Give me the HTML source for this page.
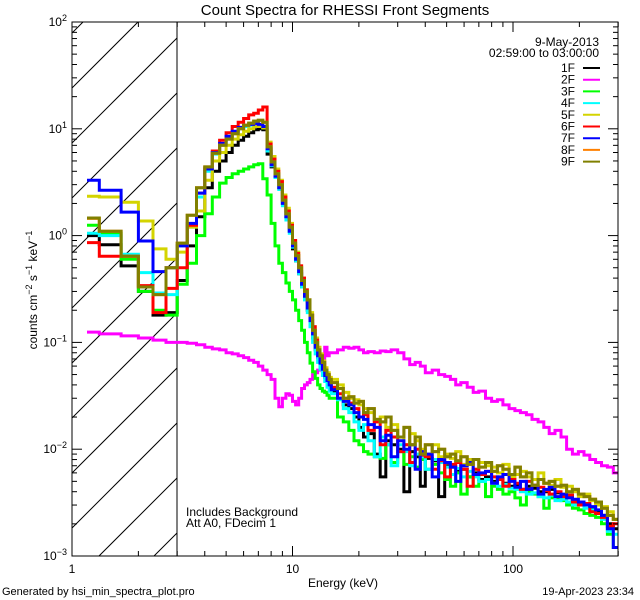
<!DOCTYPE html>
<html><head><meta charset="utf-8"><style>
html,body{margin:0;padding:0;background:#fff;width:640px;height:600px;overflow:hidden;}
svg{display:block;font-family:"Liberation Sans",sans-serif;}
</style></head><body>
<svg id="chart" width="640" height="600" xmlns="http://www.w3.org/2000/svg">
<rect width="640" height="600" fill="#fff"/>
<text x="345" y="15" font-size="15" text-anchor="middle">Count Spectra for RHESSI Front Segments</text>
<defs><clipPath id="pc"><rect x="72" y="22" width="546" height="534"/></clipPath></defs>
<g id="hatch"></g>
<g id="series" clip-path="url(#pc)"></g>
<g id="axes"></g>
<text transform="translate(37,290) rotate(-90)" font-size="12" text-anchor="middle">counts cm<tspan dy="-5" font-size="9">−2</tspan><tspan dy="5"> s</tspan><tspan dy="-5" font-size="9">−1</tspan><tspan dy="5"> keV</tspan><tspan dy="-5" font-size="9">−1</tspan></text>
<text x="343" y="587" font-size="12" text-anchor="middle">Energy (keV)</text>
<text x="2" y="595" font-size="11">Generated by hsi_min_spectra_plot.pro</text>
<text x="634" y="595" font-size="11" text-anchor="end">19-Apr-2023 23:34</text>
<text x="186" y="516" font-size="12">Includes Background</text>
<text x="186" y="527" font-size="12">Att A0, FDecim 1</text>
<text x="599" y="46" font-size="12" text-anchor="end">9-May-2013</text>
<text x="599" y="57" font-size="12" text-anchor="end">02:59:00 to 03:00:00</text>
<g id="legend"></g>
</svg>
<script>
const NS="http://www.w3.org/2000/svg";
const edges=[1.17,1.33,1.67,2.0,2.33,2.67,3.0,3.33,3.67,4.0,4.33,4.67,5.0,5.33,5.67,6.0,6.33,6.67,7.0,7.33,7.67,8.0,8.33,8.67,9.0,9.33,9.67,10.0,10.33,10.67,11.0,11.33,11.67,12.0,12.33,12.67,13.0,13.33,13.67,14.0,14.33,14.67,15,16,17,18,19,20,21,22,23.5,25,26.5,28,30,32,34,36,38,40,43,46,49,52,55,58,62,66,70,75,80,85,90,96,102,108,115,122,130,138,146,155,165,175,186,198,210,223,237,252,268,285,300];
const seriesNames=["1F","2F","3F","4F","5F","6F","7F","8F","9F"];
const s1F=[1.0,0.82,0.52,0.3,0.18,0.19, 0.38,0.8,1.5,2.8,4.0,5.0,6.0,7.0,7.8,8.5,9.2,9.8,10,9.8,5.8,4.4,3.5,2.8,2.0,1.5,1.1,0.75,0.58,0.44,0.33,0.26,0.2,0.15,0.11,0.085,0.072,0.062,0.054,0.047,0.042,0.038, 0.035,0.03,0.026,0.024,0.02,0.016,0.013,0.014,0.009,0.0055,0.012,0.011,0.01,0.004,0.0095,0.0085,0.0045,0.0082,0.0078,0.0036,0.007,0.0068,0.0062,0.0065,0.0055,0.006,0.0052,0.0055,0.005,0.0052,0.0048,0.0045,0.0046,0.0042,0.0045,0.0043,0.004,0.004,0.0042,0.0039,0.0036,0.0037,0.0032,0.0031,0.003,0.0028,0.0026,0.0024,0.002,0.0018];
const s2F=[0.125,0.12,0.115,0.11,0.105,0.1, 0.1,0.098,0.095,0.09,0.087,0.085,0.08,0.078,0.075,0.072,0.068,0.065,0.06,0.055,0.05,0.045,0.03,0.025,0.03,0.033,0.032,0.028,0.026,0.03,0.037,0.04,0.042,0.045,0.05,0.052,0.055,0.058,0.065,0.09,0.075,0.08, 0.08,0.085,0.09,0.088,0.09,0.085,0.08,0.082,0.08,0.083,0.082,0.085,0.08,0.07,0.062,0.065,0.06,0.052,0.055,0.05,0.048,0.045,0.04,0.042,0.038,0.034,0.035,0.03,0.028,0.029,0.026,0.024,0.023,0.022,0.021,0.019,0.018,0.016,0.014,0.015,0.013,0.01,0.009,0.0095,0.0088,0.008,0.0075,0.007,0.0068,0.006];
const s3F=[1.25,1.05,0.6,0.3,0.2,0.18, 0.35,0.55,1.0,1.6,2.3,3.1,3.5,3.8,4.0,4.2,4.4,4.6,4.7,3.4,2.4,1.3,0.8,0.55,0.45,0.36,0.3,0.25,0.2,0.16,0.13,0.1,0.08,0.064,0.053,0.046,0.04,0.037,0.035,0.034,0.032,0.03, 0.03,0.02,0.018,0.015,0.012,0.011,0.0095,0.009,0.0085,0.0082,0.011,0.0075,0.0095,0.0072,0.0085,0.0068,0.008,0.0065,0.0072,0.006,0.0052,0.0045,0.006,0.0038,0.0055,0.0045,0.005,0.0036,0.0045,0.0042,0.0038,0.004,0.0035,0.003,0.004,0.0038,0.0036,0.0028,0.0035,0.0034,0.0033,0.003,0.0028,0.0027,0.0025,0.0024,0.0023,0.002,0.0016,0.0012];
const s4F=[1.05,1.0,0.67,0.45,0.29,0.28, 0.8,1.2,2.3,4.0,5.8,7.0,8.2,9.2,10,10.5,10.8,11,10.8,10.2,6.2,4.5,3.5,2.7,1.9,1.4,1.05,0.78,0.58,0.44,0.33,0.25,0.19,0.14,0.1,0.078,0.065,0.056,0.049,0.043,0.038,0.035, 0.033,0.029,0.024,0.022,0.018,0.015,0.017,0.012,0.0085,0.013,0.011,0.007,0.011,0.0095,0.007,0.009,0.0085,0.0065,0.008,0.0075,0.0068,0.0058,0.0066,0.0055,0.0062,0.0055,0.005,0.0052,0.0048,0.0045,0.0047,0.0043,0.0042,0.004,0.0038,0.0039,0.0036,0.0035,0.0037,0.0033,0.0034,0.0032,0.003,0.0031,0.0028,0.0027,0.0025,0.0022,0.0017,0.0016];
const s5F=[2.34,2.3,2.05,1.37,0.75,0.6, 0.7,1.2,1.7,3.3,5.0,6.0,7.0,8.0,8.8,9.5,10,10.5,10.5,10.2,7.5,5.5,4.2,3.3,2.4,1.8,1.3,0.9,0.7,0.52,0.4,0.31,0.25,0.19,0.14,0.11,0.09,0.078,0.067,0.058,0.052,0.047, 0.045,0.04,0.034,0.03,0.029,0.026,0.024,0.022,0.018,0.02,0.016,0.017,0.013,0.011,0.014,0.012,0.01,0.009,0.011,0.0085,0.009,0.0082,0.0095,0.0072,0.008,0.0065,0.0075,0.007,0.0068,0.006,0.0072,0.0055,0.0058,0.0062,0.0055,0.0052,0.006,0.0048,0.0046,0.0052,0.0044,0.0045,0.004,0.0036,0.0038,0.0033,0.003,0.0029,0.0026,0.0022];
const s6F=[0.86,0.64,0.64,0.34,0.19,0.32, 0.5,1.25,2.5,4.3,6.2,7.8,9.2,10.5,11.5,12.5,13.5,14,15,16,7.2,5.2,4.0,3.2,2.3,1.7,1.25,0.9,0.68,0.52,0.4,0.31,0.24,0.18,0.14,0.105,0.085,0.072,0.062,0.054,0.048,0.043, 0.038,0.033,0.03,0.027,0.024,0.02,0.021,0.015,0.018,0.011,0.015,0.013,0.0095,0.011,0.0075,0.01,0.0088,0.0085,0.0065,0.0078,0.0055,0.0072,0.0075,0.0065,0.0045,0.0065,0.0058,0.0062,0.0055,0.0052,0.0045,0.0052,0.0048,0.0042,0.005,0.0046,0.0044,0.0041,0.0038,0.004,0.0036,0.0037,0.0032,0.003,0.0031,0.0026,0.0025,0.0023,0.0019,0.002];
const s7F=[3.3,2.66,1.66,0.89,0.46,0.5, 0.8,1.3,2.5,4.2,6,7.3,8.5,9.5,10.3,10.8,11,11.2,11,10.5,6.5,4.6,3.6,2.8,2.0,1.5,1.1,0.8,0.6,0.46,0.35,0.27,0.21,0.16,0.12,0.09,0.075,0.064,0.056,0.049,0.044,0.04, 0.036,0.03,0.028,0.026,0.022,0.02,0.019,0.017,0.016,0.012,0.0135,0.0085,0.012,0.01,0.011,0.0065,0.0095,0.009,0.0055,0.008,0.0075,0.0068,0.005,0.007,0.0075,0.0058,0.006,0.0062,0.0048,0.0055,0.0058,0.005,0.0044,0.005,0.0042,0.0046,0.0038,0.0042,0.0044,0.0036,0.0038,0.0035,0.0034,0.0032,0.003,0.0029,0.0027,0.0024,0.0018,0.0012];
const s8F=[1.45,1.1,0.64,0.33,0.28,0.5, 0.85,1.55,2.8,4.4,5.9,7.0,8.0,9.0,10,10.8,11.3,11.8,12,11.5,6.8,4.9,3.8,3.0,2.15,1.6,1.2,0.85,0.65,0.5,0.38,0.3,0.25,0.18,0.13,0.1,0.085,0.075,0.065,0.055,0.05,0.045, 0.042,0.037,0.03,0.031,0.027,0.028,0.022,0.024,0.019,0.018,0.02,0.015,0.013,0.016,0.011,0.013,0.009,0.011,0.0095,0.01,0.0085,0.009,0.0078,0.0085,0.0072,0.008,0.0068,0.0075,0.0062,0.007,0.0065,0.0058,0.0068,0.0055,0.006,0.0046,0.0052,0.0048,0.005,0.0045,0.0046,0.004,0.0042,0.0038,0.0036,0.0034,0.0032,0.0028,0.0024,0.0022];
const s9F=[1.46,1.1,0.64,0.33,0.28,0.5, 0.85,1.55,2.8,4.4,5.9,7.0,8.0,9.0,10,10.8,11.3,11.8,12,11.5,6.8,4.9,3.8,3.0,2.15,1.6,1.2,0.85,0.65,0.5,0.38,0.3,0.25,0.18,0.13,0.1,0.085,0.075,0.065,0.055,0.05,0.045, 0.042,0.037,0.03,0.031,0.027,0.028,0.022,0.024,0.019,0.018,0.02,0.015,0.013,0.016,0.011,0.013,0.009,0.011,0.0095,0.01,0.0085,0.009,0.0078,0.0085,0.0072,0.008,0.0068,0.0075,0.0062,0.007,0.0065,0.0058,0.0068,0.0055,0.006,0.0046,0.0052,0.0048,0.005,0.0045,0.0046,0.004,0.0042,0.0038,0.0036,0.0034,0.0032,0.0028,0.0024,0.0022];
const seriesValues=[s1F,s2F,s3F,s4F,s5F,s6F,s7F,s8F,s9F];
const seriesColors=["#000000","#ff00ff","#00ff00","#00ffff","#d4d400","#ff0000","#0000ff","#ff8000","#808000"];
const xTickValues=[1,10,100];
const xTickLabels=["1","10","100"];
const yTickExps=[-3,-2,-1,0,1,2];

const L=72,R=618,T=22,B=556;
function xs(e){return L+Math.log10(e)*220.5;}
function ys(v){return Math.min(B+2,T+(2-Math.log10(Math.max(v,1e-4)))*106.8);}
function mk(tag,attrs,parent){const el=document.createElementNS(NS,tag);for(const k in attrs)el.setAttribute(k,attrs[k]);parent.appendChild(el);return el;}

const hatch=document.getElementById('hatch');
for(let c=105;c<=760;c+=55){
  const xa=Math.max(L,c-B), xb=Math.min(177,c-T);
  if(xb<=xa)continue;
  const ln=mk('line',{x1:xa,y1:c-xa,x2:xb,y2:c-xb,stroke:'#000','stroke-width':1},hatch);
  
  
}
const sep=mk('line',{x1:177,y1:T,x2:177,y2:B,stroke:'#000','stroke-width':1},hatch);



const sg=document.getElementById('series');
seriesValues.forEach((vals,si)=>{
  let d='';
  for(let i=0;i<vals.length;i++){
    const x0=xs(edges[i]).toFixed(1),x1=xs(edges[i+1]).toFixed(1),y=ys(vals[i]).toFixed(1);
    d+=(i===0?'M':'L')+x0+','+y+'L'+x1+','+y;
  }
  const p=mk('path',{d:d,fill:'none',stroke:seriesColors[si],'stroke-width':3,'stroke-linejoin':'miter'},sg);
  
  
});

const ax=document.getElementById('axes');
const frame=mk('rect',{x:L,y:T,width:R-L,height:B-T,fill:'none',stroke:'#000','stroke-width':1},ax);


for(let dec=0;dec<3;dec++){
  for(let m=1;m<10;m++){
    const e=m*Math.pow(10,dec); if(e>300)break;
    const x=xs(e), len=m===1?10:5;
    const t1=mk('line',{x1:x,y1:B,x2:x,y2:B-len,stroke:'#000'},ax);
    
    
    const t2=mk('line',{x1:x,y1:T,x2:x,y2:T+len,stroke:'#000'},ax);
    
    
  }
}
xTickValues.forEach((v,i)=>{
  const t=mk('text',{x:xs(v),y:573,'font-size':12,'text-anchor':'middle'},ax);
  t.textContent=xTickLabels[i];
  
  
});
yTickExps.forEach(ex=>{
  for(let m=1;m<10;m++){
    if(ex===2&&m>1)break;
    const y=ys(m*Math.pow(10,ex)), len=m===1?10:5;
    const a=mk('line',{x1:L,y1:y,x2:L+len,y2:y,stroke:'#000'},ax);
    
    
    const b=mk('line',{x1:R,y1:y,x2:R-len,y2:y,stroke:'#000'},ax);
    
    
  }
  const t=mk('text',{x:67,y:ys(Math.pow(10,ex))+4,'font-size':12,'text-anchor':'end'},ax);
  
  
  t.textContent='10';
  const sup=mk('tspan',{dy:-5,'font-size':9},t);
  sup.textContent=ex<0?'−'+(-ex):String(ex);
});

const lg=document.getElementById('legend');
seriesNames.forEach((n,i)=>{
  const y=68+i*11.7;
  const t=mk('text',{x:575,y:y+4,'font-size':12,'text-anchor':'end'},lg);
  t.textContent=n;
  
  
  const l=mk('line',{x1:583,y1:y,x2:600,y2:y,stroke:seriesColors[i],'stroke-width':2},lg);
  
  
});
</script>
</body></html>
